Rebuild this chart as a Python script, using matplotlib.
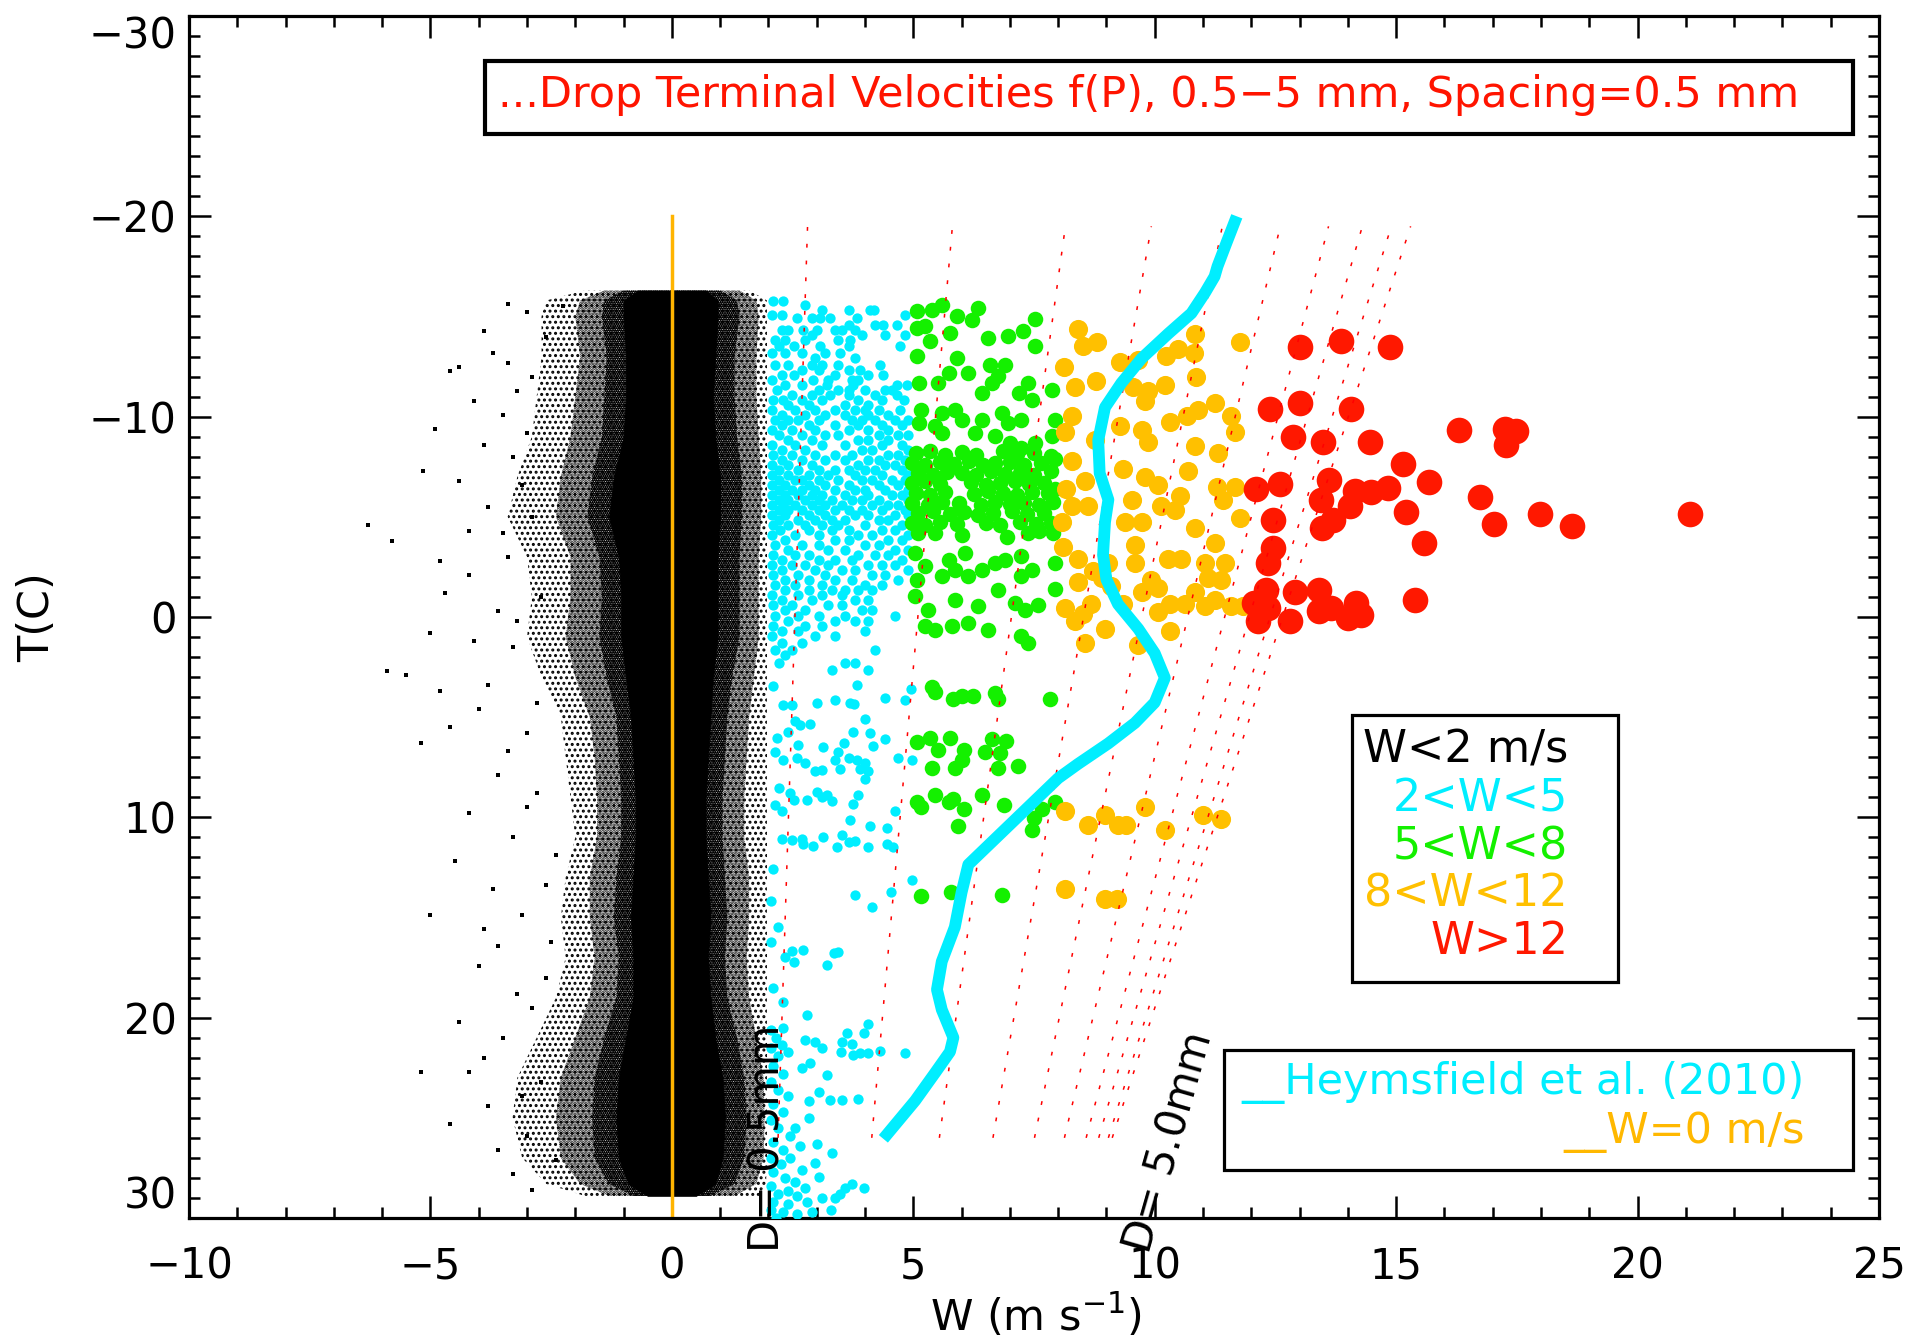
import numpy as np
import matplotlib
matplotlib.use("Agg")
import matplotlib.pyplot as plt
from matplotlib.patches import Rectangle

plt.rcParams['font.family'] = ['DejaVu Sans']
plt.rcParams['hatch.linewidth'] = 1.4

##########################################
# data: temperature T (C) vs vertical velocity W (m/s)

# W<2 m/s cloud: envelopes of the solid core, dark speckle, mid speckle and sparse speckle
env_t = [-16.3, -15.8, -15, -13, -11, -9, -7, -5, -3, -1, 1, 3, 5, 7, 9,
         11, 13, 15, 17, 19, 21, 23, 25, 27, 28.3, 28.9]
core_l = [-0.7, -1.0, -1.0, -0.95, -0.95, -1.0, -1.2, -1.3, -1.1, -1.05, -1.05, -0.95, -0.85,
          -0.8, -0.75, -0.75, -0.8, -0.85, -0.8, -0.8, -0.95, -1.1, -1.15, -1.1, -0.9, -0.5]
core_r = [0.7, 0.95, 0.95, 0.9, 0.85, 0.9, 1.0, 1.0, 0.95, 0.95, 0.95, 0.85, 0.8,
          0.75, 0.7, 0.7, 0.75, 0.8, 0.75, 0.8, 0.9, 1.05, 1.1, 1.05, 0.9, 0.5]
dark_l = [-1.0, -1.4, -1.45, -1.35, -1.4, -1.45, -1.65, -1.75, -1.5, -1.45, -1.5, -1.35, -1.15,
          -1.1, -1.05, -1.05, -1.15, -1.2, -1.1, -1.15, -1.4, -1.6, -1.65, -1.6, -1.3, -0.8]
dark_r = [1.0, 1.35, 1.4, 1.3, 1.3, 1.35, 1.45, 1.45, 1.4, 1.4, 1.4, 1.25, 1.15,
          1.1, 1.05, 1.05, 1.1, 1.15, 1.1, 1.15, 1.35, 1.5, 1.55, 1.5, 1.3, 0.8]
mid_l = [-1.4, -1.9, -2.0, -1.9, -2.0, -2.1, -2.3, -2.4, -2.1, -2.1, -2.2, -2.0, -1.7,
         -1.6, -1.55, -1.55, -1.7, -1.7, -1.6, -1.7, -2.0, -2.3, -2.4, -2.3, -1.9, -1.3]
mid_r = [1.4, 1.75, 1.8, 1.75, 1.75, 1.8, 1.85, 1.85, 1.8, 1.8, 1.8, 1.7, 1.6,
         1.55, 1.5, 1.5, 1.6, 1.6, 1.55, 1.6, 1.75, 1.9, 1.92, 1.9, 1.75, 1.3]
outer_l = [-1.8, -2.6, -2.7, -2.7, -2.8, -2.9, -3.2, -3.4, -3.0, -2.9, -3.0, -2.7, -2.3,
           -2.2, -2.1, -2.0, -2.2, -2.3, -2.2, -2.4, -2.8, -3.2, -3.3, -3.1, -2.6, -1.8]
outer_r = [1.6, 1.97, 1.97, 1.97, 1.97, 1.97, 1.97, 1.97, 1.97, 1.97, 1.97, 1.97, 1.97,
           1.97, 1.97, 1.97, 1.97, 1.97, 1.97, 1.97, 1.97, 1.97, 1.97, 1.97, 1.95, 1.8]

# isolated W<2 points left of the cloud
black_pts = [(-5.16, -7.3), (-5.8, -3.8), (-5.5, 2.9), (-4.6, 5.5), (-5.2, 22.7), (-4.2, 22.7),
             (-4.4, -12.5), (-3.9, -14.3), (-3.0, -15.2), (-3.5, -10.1), (-3.8, -5.5), (-4.2, -2.1),
             (-3.6, -0.3), (-3.3, 1.5), (-3.8, 3.4), (-3.0, 5.8), (-2.8, 8.8), (-2.4, 11.9),
             (-3.1, 14.9), (-2.6, 18.0), (-3.5, 21.0), (-3.8, 24.4), (-3.0, 25.9), (-2.4, 27.1),
             (-2.25, -15.5), (-4.8, 3.7), (-5.2, 6.3), (-4.5, 12.2), (-4.0, 17.4), (-5.0, 14.9),
             (-5.9, 2.7), (-4.6, -12.3), (-4.1, -10.8), (-3.3, -8.0), (-3.4, -3.0), (-3.1, -6.6),
             (-2.9, -12.0), (-2.7, -1.0), (-3.0, 9.5), (-2.6, 13.4), (-2.9, 19.5), (-2.7, 23.2),
             (-3.3, 27.8), (-6.3, -4.6), (-2.6, -14.0), (-2.8, 4.3), (-2.5, 16.2), (-3.6, 7.9),
             (-3.2, -11.3), (-2.9, -5.0), (-3.7, -13.2), (-3.4, -15.6), (-4.9, -9.4), (-4.4, -6.8),
             (-3.9, -8.6), (-4.7, -1.2), (-5.0, 0.8), (-4.1, 1.2), (-3.5, -4.2), (-4.0, 4.6),
             (-3.4, 6.7), (-4.2, 9.8), (-3.3, 11.0), (-3.7, 13.6), (-3.6, 16.4), (-3.2, 18.8),
             (-4.4, 20.2), (-3.9, 22.0), (-4.6, 25.3), (-3.6, 26.6), (-2.9, 28.6), (-3.1, 23.9),
             (-4.2, -4.3), (-4.8, -2.8), (-3.2, 0.2), (-3.9, 15.6), (-3.4, -12.7), (-3.0, -9.2)]

# 2<W<5, upper part given row by row (T, [W, ...])
cyan_rows = [
    (-15.75, [2.10, 2.31]), (-15.59, [2.76]), (-15.34, [3.10, 3.66, 4.10, 4.19]),
    (-15.09, [4.83, 2.07, 2.28]), (-14.92, [2.59, 2.90, 3.07, 3.28, 3.83]),
    (-14.59, [3.66, 4.21, 4.38, 4.66]), (-14.34, [2.28, 2.41, 2.72, 3.00, 3.38, 3.52, 3.79]),
    (-14.09, [4.83, 4.42, 3.93, 2.90]), (-13.84, [2.14, 2.35, 2.76, 3.45, 3.69]),
    (-13.51, [2.21, 2.52, 3.07, 3.66, 4.73]), (-13.17, [2.07, 2.35, 2.69, 3.17, 3.48]),
    (-12.92, [2.97, 3.79]), (-12.59, [2.14, 2.41, 2.90, 3.10, 3.45, 4.31]),
    (-12.34, [2.69, 3.04, 3.66, 3.90]), (-12.09, [2.28, 2.52, 3.38, 4.07, 4.38]),
    (-11.84, [2.07, 2.93, 3.24, 3.73, 3.86]), (-11.59, [2.35, 2.69, 3.21, 3.76, 4.66, 4.86]),
    (-11.34, [2.17, 3.04, 3.45, 3.66, 4.00, 4.42, 4.55]),
    (-11.09, [2.48, 2.90, 3.28, 3.66, 4.21, 4.66]),
    (-10.84, [2.10, 2.31, 2.69, 3.10, 3.86, 4.35, 4.80]), (-10.59, [2.41, 2.83, 3.59, 4.07]),
    (-10.34, [2.07, 2.55, 2.97, 3.38, 3.79, 4.00, 4.28, 4.73]),
    (-10.09, [2.28, 2.76, 3.17, 3.59, 4.07, 4.48]),
    (-9.85, [2.14, 2.41, 2.62, 3.04, 3.73, 3.93, 4.21, 4.62, 4.90]),
    (-9.60, [2.28, 2.83, 3.38, 3.86, 4.35, 4.76]), (-9.35, [2.07, 2.48, 2.97, 3.66, 4.07, 4.48]),
    (-9.10, [2.21, 2.69, 3.17, 3.45, 4.28, 4.69, 4.90]), (-8.85, [2.41, 2.90, 3.86, 4.07, 4.48]),
    (-8.60, [2.07, 2.55, 3.10, 3.59, 4.35, 4.76]), (-8.35, [2.28, 2.76, 3.93, 4.14, 4.90]),
    (-8.10, [2.10, 2.48, 2.97, 3.38, 3.73, 4.48, 4.69]),
    (-7.85, [2.28, 2.69, 3.17, 3.59, 4.07, 4.28, 4.83]),
    (-7.60, [2.07, 2.41, 2.90, 3.86, 4.42, 4.62]),
    (-7.35, [2.21, 2.62, 3.04, 3.38, 3.66, 4.00, 4.21, 4.76]),
    (-7.10, [2.07, 2.41, 2.83, 3.24, 3.79, 4.35, 4.90]),
    (-6.85, [2.21, 2.55, 2.69, 3.04, 3.45, 3.93, 4.14, 4.55, 4.83]),
    (-6.60, [2.07, 2.35, 2.83, 3.17, 3.66, 4.28, 4.69]),
    (-6.35, [2.21, 2.48, 2.69, 2.97, 3.38, 3.79, 4.00, 4.42, 4.90]),
    (-6.10, [2.07, 2.35, 2.62, 2.90, 3.10, 3.59, 4.07, 4.55, 4.76]),
    (-5.85, [2.21, 2.41, 2.76, 3.04, 3.31, 3.73, 3.93, 4.28, 4.90]),
    (-5.60, [2.07, 2.31, 2.55, 2.90, 3.17, 3.52, 4.14, 4.48, 4.69]),
    (-5.35, [2.21, 2.41, 2.69, 3.04, 3.38, 3.66, 3.93, 4.35, 4.83]),
    (-5.10, [2.07, 2.35, 2.83, 3.17, 3.79, 4.07, 4.62, 4.90]),
    (-4.85, [2.21, 2.62, 2.97, 3.31, 3.59, 4.28, 4.48]),
    (-4.60, [2.10, 2.41, 2.76, 3.10, 3.45, 4.00, 4.76]),
    (-4.35, [2.24, 2.83, 3.31, 3.66, 4.35, 4.62]), (-4.10, [2.07, 2.55, 3.04, 3.86, 4.14, 4.90]),
    (-3.86, [2.35, 3.38, 3.66, 4.48, 4.76]), (-3.61, [2.14, 2.69, 3.04, 4.00, 4.28]),
    (-3.36, [2.41, 3.24, 3.59, 4.62, 4.90]), (-3.11, [2.10, 2.55, 2.83, 3.86, 4.21, 4.48]),
    (-2.86, [2.28, 3.04, 3.38, 3.73, 4.76]), (-2.61, [2.07, 2.48, 2.76, 3.24, 4.07, 4.35, 4.62]),
    (-2.36, [2.28, 2.97, 3.52, 3.79, 4.90]), (-2.11, [2.10, 2.62, 3.17, 4.14, 4.42]),
    (-1.86, [2.35, 2.83, 3.38, 3.73, 4.69]), (-1.61, [2.14, 2.55, 3.10, 4.00, 4.35]),
    (-1.36, [2.35, 2.83, 3.31, 3.59, 3.86, 4.14]), (-1.11, [2.07, 2.62, 3.10, 3.52]),
    (-0.86, [2.28, 2.90, 3.79, 4.07]), (-0.61, [2.10, 2.48, 3.24, 3.52]),
    (-0.36, [2.35, 2.76, 3.93, 4.14]), (-0.03, [2.14, 2.62, 3.04, 3.59, 4.62]),
    (0.22, [2.41, 3.38, 3.79, 4.07]), (0.47, [2.10, 2.76, 3.10]), (0.72, [2.28, 2.62, 4.00]),
    (0.97, [2.07, 2.97, 3.38]), (1.30, [2.28, 2.69]), (1.64, [2.14, 2.48, 4.21]),
    (1.89, [2.35]), (2.30, [2.21, 3.59, 3.79]), (2.63, [3.31, 4.07]),
]

# 2<W<5, lower part
cyan_low = [(2.10, 3.43), (3.83, 3.38), (4.42, 4.04), (4.83, 4.13), (4.95, 3.6), (2.31, 4.39),
            (2.48, 4.39), (3.00, 4.30), (3.38, 4.13), (3.69, 4.30), (3.78, 4.35), (4.00, 5.11),
            (2.55, 5.17), (2.66, 5.39), (2.86, 5.34), (2.41, 5.74), (2.17, 6.03), (2.62, 6.38),
            (3.14, 6.47), (3.45, 6.73), (3.57, 6.29), (3.76, 5.74), (4.10, 5.81), (4.42, 6.08),
            (4.17, 6.43), (2.14, 6.73), (2.31, 7.16), (2.59, 7.02), (3.38, 7.12), (3.66, 7.02),
            (3.83, 7.16), (4.00, 7.30), (3.48, 7.59), (3.90, 7.59), (4.07, 7.71), (2.97, 7.71),
            (3.10, 7.64), (2.76, 7.30), (4.69, 7.02), (4.97, 7.16), (3.99, 8.11), (2.21, 8.55),
            (2.45, 8.81), (2.52, 9.15), (2.79, 9.15), (3.00, 8.72), (3.10, 8.98), (3.31, 9.20),
            (3.21, 8.89), (3.86, 8.89), (3.76, 9.36), (2.14, 9.41), (2.28, 9.67), (4.10, 10.45),
            (4.45, 10.54), (3.69, 10.11), (2.28, 11.06), (2.48, 11.15), (2.69, 11.06), (2.72, 11.32),
            (2.93, 11.41), (3.14, 10.97), (3.41, 11.49), (3.52, 10.89), (3.66, 11.23), (3.79, 11.18),
            (4.07, 11.46), (4.45, 11.32), (4.59, 11.49), (4.62, 9.67), (4.97, 13.14), (3.79, 13.88),
            (4.15, 14.47), (4.54, 13.75), (2.35, 16.95), (2.48, 16.69), (2.52, 17.21), (2.72, 16.60),
            (3.35, 16.78), (3.45, 16.73), (3.21, 17.38), (2.79, 19.85), (4.07, 20.33), (3.62, 20.76),
            (3.97, 20.76), (4.83, 21.75), (4.31, 21.68), (4.07, 21.75), (3.76, 21.86), (3.90, 21.75),
            (3.53, 21.20), (3.73, 21.34), (3.50, 21.72), (3.21, 22.84), (3.04, 23.71), (2.83, 24.14),
            (3.28, 24.11), (3.86, 24.06), (3.52, 24.11), (2.31, 20.54), (2.76, 21.11), (2.97, 21.20),
            (3.10, 21.54), (2.86, 22.24), (2.69, 22.50), (2.28, 21.37), (2.41, 21.72), (2.83, 25.01),
            (2.55, 25.53), (2.66, 26.40), (3.00, 26.31), (3.31, 26.74), (2.97, 27.26), (2.69, 27.61),
            (3.04, 27.96), (3.59, 28.48), (3.73, 28.30), (3.97, 28.48), (3.48, 28.82), (2.76, 28.48),
            (2.41, 28.65), (3.38, 29.00), (3.10, 29.00), (2.05, 20.6), (2.15, 21.0), (2.05, 21.5),
            (2.2, 21.9), (2.1, 22.4), (2.3, 22.8), (2.05, 23.2), (2.2, 23.6), (2.4, 23.9), (2.1, 24.3),
            (2.3, 24.7), (2.05, 25.1), (2.2, 25.5), (2.45, 25.9), (2.1, 26.2), (2.3, 26.6), (2.05, 27.0),
            (2.25, 27.3), (2.45, 27.0), (2.1, 27.7), (2.35, 28.0), (2.55, 28.2), (2.05, 28.4),
            (2.2, 28.8), (2.6, 28.9), (2.1, 29.2), (2.4, 29.3), (2.8, 29.2), (2.05, 29.6), (2.3, 29.7),
            (2.9, 29.7), (3.3, 29.6), (2.6, 29.8), (2.15, 30.0), (2.1, 12.6), (2.05, 14.2),
            (2.2, 15.5), (2.1, 18.5), (2.3, 19.2), (2.05, 16.2)]

# 5<W<8
green_pts = [(5.07, -15.25), (5.38, -15.34), (5.59, -15.59), (5.24, -14.50), (5.07, -14.42),
             (5.35, -13.76), (5.76, -14.17), (5.90, -15.0), (6.21, -14.84), (6.33, -15.42),
             (6.55, -13.92), (6.96, -14.04), (7.28, -14.30), (7.52, -14.87), (7.52, -13.51),
             (5.07, -13.01), (5.90, -12.92), (5.73, -12.17), (6.14, -12.17), (5.11, -11.68),
             (5.52, -11.68), (6.59, -12.59), (6.90, -12.59), (6.76, -12.01), (6.62, -11.68),
             (6.42, -11.18), (7.18, -11.18), (7.38, -11.68), (7.45, -10.84), (7.87, -11.34),
             (5.17, -10.34), (5.59, -10.18), (5.11, -9.68), (5.86, -10.34), (6.00, -9.85),
             (6.42, -9.85), (6.83, -10.18), (6.97, -9.68), (7.24, -9.85), (5.59, -9.18),
             (5.45, -9.51), (6.28, -9.18), (6.69, -9.01), (7.00, -8.68), (7.24, -8.43),
             (7.52, -8.68), (7.94, -9.85), (7.87, -9.01),
             (5.05, -8.2), (5.35, -8.3), (5.65, -8.1), (6.0, -8.25), (6.3, -8.1), (6.85, -8.3),
             (7.15, -8.15), (7.5, -8.2), (7.85, -8.05),
             (4.98, -7.7), (5.25, -7.6), (5.55, -7.75), (5.85, -7.65), (6.15, -7.8), (6.45, -7.6),
             (6.7, -7.7), (7.0, -7.75), (7.3, -7.6), (7.65, -7.7),
             (5.1, -7.2), (5.4, -7.1), (5.7, -7.25), (6.0, -7.2), (6.3, -7.1), (6.6, -7.3),
             (6.9, -7.15), (7.2, -7.2), (7.5, -7.1), (7.85, -7.3),
             (4.98, -6.7), (5.25, -6.8), (5.55, -6.65), (6.2, -6.75), (6.5, -6.6), (6.8, -6.7),
             (7.1, -6.8), (7.4, -6.65), (7.7, -6.7),
             (5.05, -6.2), (5.35, -6.1), (5.65, -6.25), (6.25, -6.15), (6.55, -6.3), (6.85, -6.2),
             (7.15, -6.1), (7.45, -6.25), (7.8, -6.2),
             (4.98, -5.7), (5.3, -5.6), (5.6, -5.75), (5.95, -5.7), (6.4, -5.6), (6.7, -5.75),
             (7.0, -5.65), (7.3, -5.7), (7.6, -5.6), (7.9, -5.75),
             (5.1, -5.2), (5.4, -5.3), (5.75, -5.15), (6.05, -5.25), (6.35, -5.1), (6.65, -5.2),
             (7.05, -5.3), (7.35, -5.15), (7.7, -5.2),
             (4.98, -4.7), (5.25, -4.6), (5.55, -4.75), (5.9, -4.65), (6.5, -4.7), (6.8, -4.6),
             (7.2, -4.75), (7.55, -4.65), (7.85, -4.7),
             (5.1, -4.2), (5.45, -4.2), (6.0, -4.1), (6.95, -4.0), (7.38, -4.19), (7.6, -4.3),
             (5.04, -3.19), (5.24, -2.52), (5.07, -1.86), (5.04, -1.03), (5.31, -0.36), (5.24, 0.47),
             (5.73, -2.86), (6.07, -3.19), (5.86, -2.36), (5.59, -2.03), (6.14, -2.03), (6.42, -2.36),
             (6.69, -2.69), (6.90, -2.86), (7.24, -3.02), (7.24, -2.03), (7.45, -2.36), (5.86, -0.86),
             (6.35, -0.53), (6.76, -1.36), (7.11, -0.69), (7.31, -0.36), (7.59, -0.61), (6.14, 0.30),
             (5.80, 0.47), (6.55, 0.64), (7.24, 0.97), (7.38, 1.30), (5.45, 0.64),
             (7.94, -7.9), (7.94, -6.4), (7.9, -4.2), (7.94, -2.7), (7.94, -1.4),
             (5.38, 3.52), (5.45, 3.73), (5.83, 4.07), (6.0, 3.95), (6.24, 3.95), (6.69, 3.78),
             (6.76, 4.07), (7.83, 4.07), (5.07, 6.26), (5.35, 6.03), (5.52, 6.64), (5.38, 7.54),
             (5.76, 6.03), (6.04, 6.64), (6.0, 7.16), (5.86, 7.54), (6.49, 6.73), (6.64, 6.08),
             (6.80, 6.81), (6.93, 6.21), (6.75, 7.54), (7.16, 7.42), (5.07, 9.24), (5.17, 9.50),
             (5.45, 8.89), (5.73, 9.24), (5.83, 9.07), (6.06, 9.59), (5.92, 10.45), (6.42, 8.89),
             (6.87, 9.41), (7.49, 10.02), (7.45, 10.63), (7.66, 9.59), (7.94, 9.24), (5.17, 13.95),
             (5.78, 13.71), (6.83, 13.88)]

# 8<W<12
orange_pts = [(8.41, -14.38), (8.81, -13.73), (8.52, -13.52), (8.12, -12.46), (8.35, -11.48),
              (8.79, -11.79), (9.28, -12.71), (9.66, -12.81), (10.24, -13.01), (10.48, -13.36),
              (10.83, -14.14), (10.82, -13.16), (10.86, -11.99), (11.76, -13.73), (9.55, -11.48),
              (9.86, -11.27), (10.21, -11.58), (9.79, -10.76), (8.28, -10.05), (8.14, -9.23),
              (8.76, -8.82), (9.28, -9.54), (9.73, -9.33), (9.86, -8.72), (10.31, -9.74),
              (10.66, -10.05), (10.90, -10.35), (11.24, -10.66), (11.59, -10.05), (11.66, -9.23),
              (11.31, -8.21), (10.83, -8.51), (10.69, -7.29), (8.28, -7.80), (8.17, -6.37),
              (8.55, -6.78), (8.28, -5.55), (8.62, -5.55), (9.35, -7.39), (9.79, -6.98),
              (10.07, -6.57), (9.52, -5.85), (9.38, -4.73), (9.73, -4.73), (10.14, -5.55),
              (10.52, -6.06), (10.42, -5.34), (10.83, -4.42), (11.28, -6.47), (11.66, -6.47),
              (11.42, -5.85), (11.76, -4.93), (8.07, -4.73), (8.10, -3.50), (8.41, -2.89),
              (8.72, -2.28), (8.41, -1.77), (8.14, -0.44), (8.52, -0.13), (8.55, 1.30),
              (9.04, -2.69), (9.10, -1.56), (9.35, -0.64), (9.59, -3.61), (9.59, -2.69),
              (9.66, 1.40), (9.93, -1.87), (10.07, -1.46), (9.73, -1.25), (10.28, -2.89),
              (10.55, -2.89), (10.31, -0.64), (10.31, 0.69), (10.07, -0.23), (10.62, -0.64),
              (10.83, -1.25), (11.04, -0.54), (11.24, -0.85), (11.24, -3.71), (11.04, -2.69),
              (11.45, -2.69), (11.11, -1.97), (11.59, -0.54), (11.83, -0.54), (11.38, -1.87),
              (8.90, -1.97), (8.69, -0.64), (8.35, 0.18), (8.97, 0.59),
              (8.14, 9.69), (8.62, 10.40), (8.97, 9.89), (9.24, 10.40), (9.41, 10.40),
              (9.79, 9.48), (10.21, 10.61), (11.0, 9.89), (11.38, 10.10), (8.14, 13.57),
              (8.97, 14.08), (9.21, 14.08)]

# W>12
red_pts = [(13.01, -13.47), (13.85, -13.79), (14.88, -13.47), (12.39, -10.38), (13.0, -10.68),
           (14.07, -10.39), (16.30, -9.31), (17.26, -9.38), (17.49, -9.26), (17.28, -8.56),
           (12.86, -8.98), (13.48, -8.73), (14.46, -8.75), (15.15, -7.65), (15.68, -6.72),
           (12.10, -6.38), (12.60, -6.63), (13.60, -6.85), (13.45, -5.82), (14.14, -6.27),
           (14.48, -6.22), (14.83, -6.43), (14.04, -5.55), (13.69, -4.85), (13.47, -4.44),
           (12.45, -4.85), (15.20, -5.23), (16.74, -5.97), (17.02, -4.64), (17.98, -5.15),
           (18.64, -4.52), (21.09, -5.13), (15.57, -3.69), (12.45, -3.44), (12.35, -2.69),
           (12.31, -1.36), (12.14, 0.22), (12.90, -1.27), (13.41, -1.36), (12.81, 0.22),
           (13.41, -0.28), (13.66, -0.44), (14.0, 0.06), (14.17, -0.69), (14.28, -0.11),
           (15.40, -0.86), (12.35, -0.44), (12.05, -0.7)]

# Heymsfield et al. (2010) profile
heym_w = [11.70, 11.49, 11.30, 11.24, 11.04, 10.76, 10.28, 9.73, 9.31, 8.97, 8.83, 8.86,
          9.04, 8.97, 8.93, 9.00, 9.24, 9.66, 10.00, 10.21, 10.00, 9.59, 9.04, 8.41, 8.00,
          6.14, 6.00, 5.86, 5.59, 5.49, 5.59, 5.83, 5.76, 5.45, 5.04, 4.38]
heym_t = [-20.0, -18.7, -17.5, -17.0, -16.18, -15.16, -14.14, -12.91, -11.68, -10.46, -8.82,
          -7.18, -5.85, -4.73, -3.09, -1.87, -0.64, 0.59, 1.81, 3.04, 4.27, 5.29, 6.31, 7.34,
          8.05, 12.36, 13.75, 15.48, 17.2, 18.6, 19.6, 21.0, 21.7, 22.76, 24.14, 26.05]

# drop terminal velocities, D = 0.5 ... 5 mm
drop_d = [0.5, 1.0, 1.5, 2.0, 2.5, 3.0, 3.5, 4.0, 4.5, 5.0]
vt_warm = [2.20, 4.14, 5.54, 6.65, 7.51, 8.13, 8.58, 8.84, 9.04, 9.12]
vt_cold = [2.81, 5.81, 8.15, 9.93, 11.4, 12.6, 13.6, 14.3, 14.9, 15.3]
t_warm, t_cold = 26.0, -19.5

zero_w = [0, 0]
zero_t = [-20, 30]

cyan_c = '#00EEFF'
green_c = '#14F000'
orange_c = '#FFC000'
red_c = '#FF1800'

##########################################
fig = plt.figure(figsize=(19.15, 13.43), dpi=100)
ax = fig.add_axes([0.0987, 0.0931, 0.8825, 0.8950])

# W<2 cloud, from the sparse edge inwards
ax.fill_betweenx(env_t, outer_l, outer_r, facecolor='none', edgecolor='black',
                 hatch='...', linewidth=0, zorder=1)
ax.fill_betweenx(env_t, mid_l, mid_r, facecolor='none', edgecolor='black',
                 hatch='......', linewidth=0, zorder=1.1)
ax.fill_betweenx(env_t, dark_l, dark_r, facecolor='none', edgecolor='black',
                 hatch='.........', linewidth=0, zorder=1.2)
ax.fill_betweenx(env_t, core_l, core_r, facecolor='black', edgecolor='black',
                 linewidth=0.5, zorder=1.3)
bw, bt = zip(*black_pts)
ax.scatter(bw, bt, s=7, marker='s', color='black', linewidths=0, zorder=1.5)

ax.plot(zero_w, zero_t, color='#FFB400', lw=2.5, zorder=2)

# 2<W<5
cw = [w for t, ws in cyan_rows for w in ws]
ct = [t for t, ws in cyan_rows for w in ws]
lw_, lt_ = zip(*cyan_low)
ax.scatter(cw + list(lw_), ct + list(lt_), s=55, color=cyan_c, linewidths=0, zorder=3)

gw, gt = zip(*green_pts)
ax.scatter(gw, gt, s=125, color=green_c, linewidths=0, zorder=4)
ow, ot = zip(*orange_pts)
ax.scatter(ow, ot, s=190, color=orange_c, linewidths=0, zorder=5)
rw, rt = zip(*red_pts)
ax.scatter(rw, rt, s=340, color=red_c, linewidths=0, zorder=6)

for vw, vc in zip(vt_warm, vt_cold):
    ax.plot([vw, vc], [t_warm, t_cold], color='red', lw=1.1,
            linestyle=(0, (2.5, 8.5)), zorder=7)

ax.plot(heym_w, heym_t, color=cyan_c, lw=8.5, solid_capstyle='butt',
        solid_joinstyle='round', zorder=8)

ax.text(1.99, 26.0, 'D= %.1fmm' % drop_d[0], rotation=90, ha='center', va='center',
        fontsize=30, zorder=9)
ax.text(10.3, 26.2, 'D= %.1fmm' % drop_d[-1], rotation=74, ha='center', va='center',
        fontsize=30, zorder=9)

# axes
ax.set_xlim(-10, 25)
ax.set_ylim(30, -30)
ax.set_xticks(np.arange(-10, 26, 5))
ax.set_xticks(np.arange(-10, 26, 1), minor=True)
ax.set_yticks(np.arange(-30, 31, 10))
ax.set_yticks(np.arange(-30, 31, 1), minor=True)
for sp in ax.spines.values():
    sp.set_linewidth(2.3)
ax.tick_params(which='both', direction='in', top=True, right=True, width=1.8)
ax.tick_params(which='major', length=16, labelsize=30)
ax.tick_params(which='minor', length=8)
ax.tick_params(axis='x', which='major', pad=20)
ax.tick_params(axis='y', which='major', pad=9)
ylabs = ax.get_yticklabels()
ylabs[0].set_va('top')
ylabs[-1].set_va('bottom')

ax.set_xlabel('W (m s$^{-1}$)', fontsize=31)
ax.set_ylabel('T(C)', fontsize=31)
ax.xaxis.set_label_coords(0.501, -0.0815)
ax.xaxis.label.set_va('center')
ax.yaxis.set_label_coords(-0.090, 0.5)
ax.yaxis.label.set_va('center')

# annotation boxes
ax.add_patch(Rectangle((0.1751, 0.9018), 0.8095, 0.0608, transform=ax.transAxes,
                       facecolor='white', edgecolor='black', lw=3, zorder=10))
ax.text(0.1828, 0.9343, '...Drop Terminal Velocities f(P), 0.5\u22125 mm, Spacing=0.5 mm',
        transform=ax.transAxes, color='#FF1400', fontsize=31, ha='left', va='center', zorder=11)

ax.add_patch(Rectangle((0.6882, 0.1963), 0.1574, 0.2222, transform=ax.transAxes,
                       facecolor='white', edgecolor='black', lw=2.3, zorder=10))
cat_labels = ['W<2 m/s', '2<W<5', '5<W<8', '8<W<12', 'W>12']
cat_colors = ['black', cyan_c, green_c, orange_c, red_c]
cat_y = [0.3894, 0.3486, 0.3087, 0.2696, 0.2296]
for lab, col, yy in zip(cat_labels, cat_colors, cat_y):
    ax.text(0.8160, yy, lab, transform=ax.transAxes, color=col, fontsize=32,
            ha='right', va='center', zorder=11)

ax.add_patch(Rectangle((0.6124, 0.0399), 0.3722, 0.0999, transform=ax.transAxes,
                       facecolor='white', edgecolor='black', lw=2.3, zorder=10))
ax.text(0.9562, 0.1123, '__Heymsfield et al. (2010)', transform=ax.transAxes, color=cyan_c,
        fontsize=31, ha='right', va='center', zorder=11)
ax.text(0.9562, 0.0715, '__W=0 m/s', transform=ax.transAxes, color='#FFB800',
        fontsize=31, ha='right', va='center', zorder=11)

fig.savefig('out.png', dpi=100)
